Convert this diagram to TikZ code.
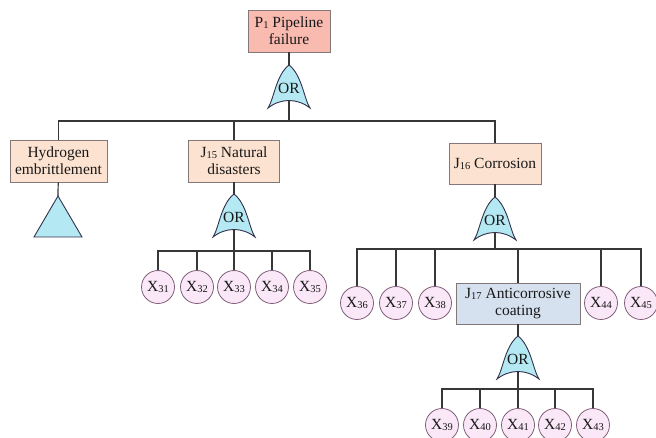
\documentclass[tikz,border=0pt]{standalone}
\usepackage{fontspec}
\setmainfont{Liberation Serif}
\definecolor{topfill}{RGB}{249,186,176}
\definecolor{midfill}{RGB}{252,226,208}
\definecolor{subfill}{RGB}{214,225,239}
\definecolor{gatefill}{RGB}{180,232,242}
\definecolor{leaffill}{RGB}{250,232,248}
\definecolor{boxline}{RGB}{130,120,120}
\definecolor{wireline}{RGB}{55,55,55}
\definecolor{inktext}{RGB}{25,25,25}
% small index digits after a letter (P1, J15, X31 ...)
\newcommand\idx[1]{\raisebox{-0.15ex}{\fontsize{10.5}{11}\selectfont #1}}
\tikzset{
  wire/.style={draw=wireline, line width=1.2pt},
  basebox/.style={draw=boxline, line width=0.9pt, align=center, inner sep=2pt,
    text=inktext, font=\fontsize{15.5}{17}\selectfont},
  topbox/.style={basebox, fill=topfill, minimum width=82pt, minimum height=42pt},
  midbox/.style={basebox, fill=midfill, minimum height=42pt},
  subbox/.style={basebox, fill=subfill, minimum height=41pt},
  leaf/.style={circle, draw=boxline!80!violet, line width=0.8pt, fill=leaffill,
    minimum size=33pt, inner sep=0pt, text=inktext, font=\fontsize{15.5}{17}\selectfont},
  gateshape/.style={draw=wireline!90!blue, line width=0.9pt, fill=gatefill},
  gatetext/.style={inner sep=0pt, text=inktext, font=\fontsize{15.5}{17}\selectfont},
  orgate/.pic={
    \path[gateshape] (-21,21) .. controls (-15,12) and (-13,-12) .. (0,-22)
      .. controls (13,-12) and (15,12) .. (21,21)
      .. controls (8,11) and (-8,11) .. (-21,21) -- cycle;
    \node[gatetext] (-c) at (0,1) {OR};
    \coordinate (-top) at (0,-22);
    \coordinate (-bot) at (0,13.5);
  }
}
\begin{document}
\begin{tikzpicture}[x=1pt,y=-1pt]
\useasboundingbox (0,0) rectangle (656,438);

% top event and its gate
\node[topbox] (p1) at (289,31) {P\idx{1} Pipeline\\failure};
\pic (g1) at (289,87) {orgate};
\coordinate (b1) at (289,121);

% second level
\node[midbox, minimum width=97pt] (h) at (58.5,161) {Hydrogen\\embrittlement};
\node[midbox, minimum width=91pt] (j15) at (234,161) {J\idx{15} Natural\\disasters};
\node[midbox, minimum width=92pt, minimum height=41pt] (j16) at (495,163.5) {J\idx{16} Corrosion};

% undeveloped event under hydrogen embrittlement
\coordinate (t) at (58,196);
\path[gateshape] (34,237) -- (t) -- (82,237) -- cycle;

\draw[wire] (p1) -- (g1-top);
\draw[wire] (g1-bot) -- (b1);
\foreach \c in {h,j15,j16} \draw[wire] (b1) -| (\c.north);
\draw[wire] (h) -- (t);

% natural disasters branch
\pic (g2) at (234,216) {orgate};
\coordinate (b2) at (234,251);
\draw[wire] (j15) -- (g2-top);
\draw[wire] (g2-bot) -- (b2);
\foreach \n/\x in {31/158,32/197,33/234,34/272,35/310}{
  \node[leaf] (x\n) at (\x,287) {X\idx{\n}};
  \draw[wire] (b2) -| (x\n.north);
}

% corrosion branch
\pic (g3) at (495,219) {orgate};
\coordinate (b3) at (495,249);
\draw[wire] (j16) -- (g3-top);
\draw[wire] (g3-bot) -- (b3);
\node[subbox, minimum width=124pt] (j17) at (518,303.5) {J\idx{17} Anticorrosive\\coating};
\draw[wire] (b3) -| (j17.north);
\foreach \n/\x in {36/357,37/396,38/435,44/601,45/641}{
  \node[leaf] (x\n) at (\x,303) {X\idx{\n}};
  \draw[wire] (b3) -| (x\n.north);
}

% anticorrosive coating branch
\pic (g4) at (518,358) {orgate};
\coordinate (b4) at (518,389);
\draw[wire] (j17) -- (g4-top);
\draw[wire] (g4-bot) -- (b4);
\foreach \n/\x in {39/442,40/480,41/518,42/555,43/593}{
  \node[leaf] (x\n) at (\x,425) {X\idx{\n}};
  \draw[wire] (b4) -| (x\n.north);
}
\end{tikzpicture}
\end{document}
